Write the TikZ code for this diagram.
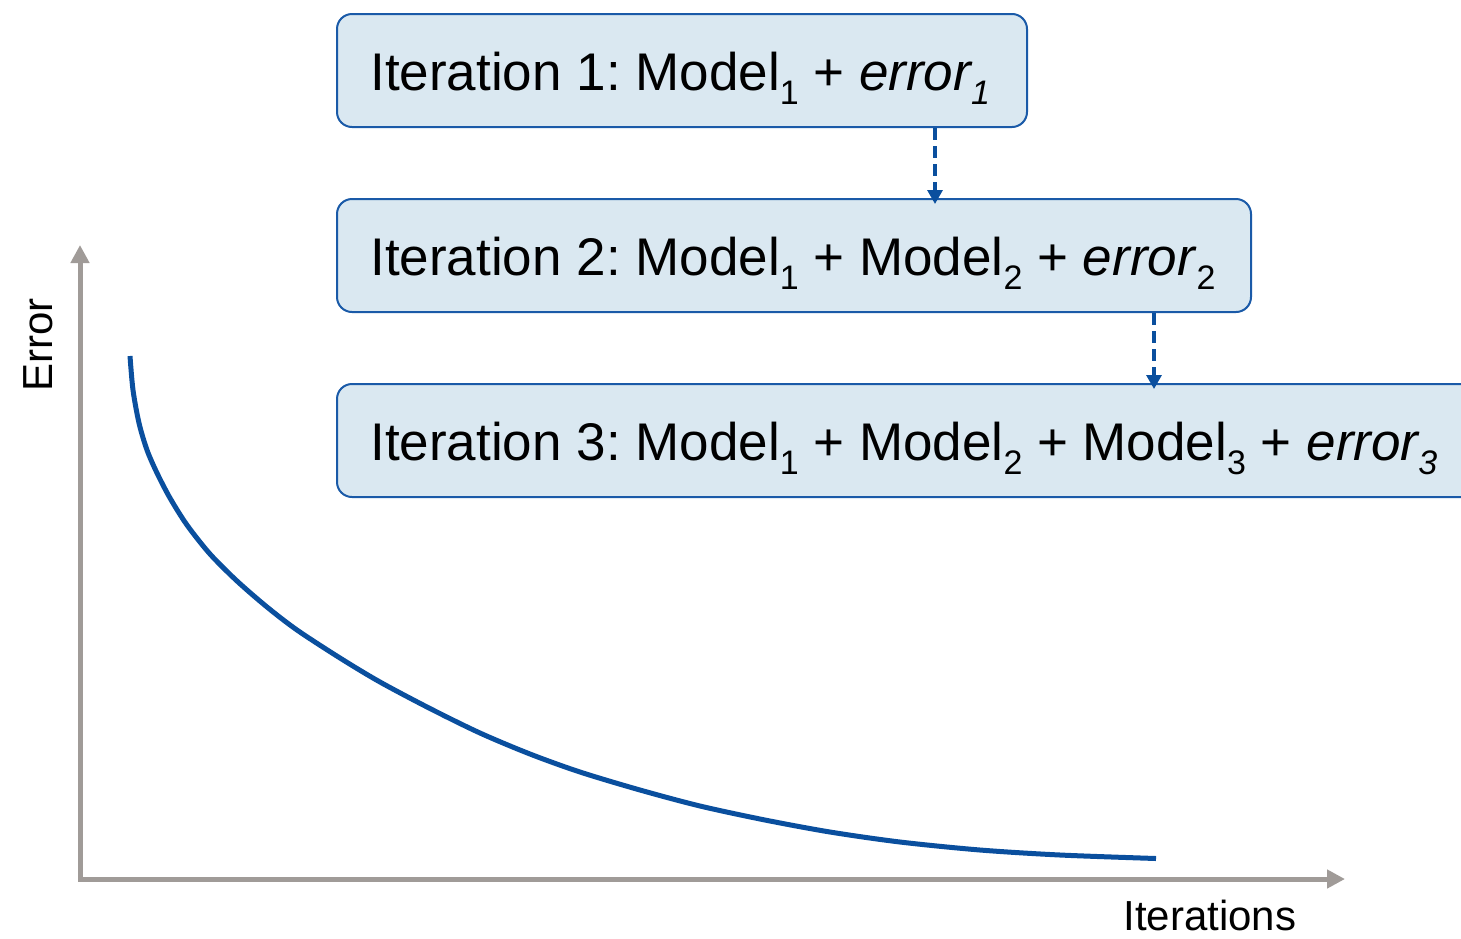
\documentclass[tikz,border=0pt]{standalone}
\usepackage{fontspec}
\setmainfont{Liberation Sans}
\usetikzlibrary{arrows.meta}
\frenchspacing

\definecolor{boxfill}{HTML}{DAE8F1}
\definecolor{boxline}{HTML}{1A5AA8}
\definecolor{curveblue}{HTML}{0A4F9E}
\definecolor{axisgray}{HTML}{A09B98}

% subscript lowered below the baseline
\newcommand{\lowsub}[1]{\raisebox{-7pt}{\fontsize{17}{17}\selectfont #1}}

\tikzset{
  iterbox/.style={draw=boxline, line width=1pt, fill=boxfill, rounded corners=7.5pt,
    minimum height=56.5pt, anchor=north west, inner sep=0pt},
  iterlabel/.style={anchor=base west, inner sep=0pt, font=\fontsize{26.5}{26.5}\selectfont},
  axislabel/.style={inner sep=0pt, font=\fontsize{21}{21}\selectfont},
  axisline/.style={draw=axisgray, line width=2.5pt, line join=miter,
    {Triangle[length=9pt,width=9pt]}-{Triangle[length=9pt,width=9pt]}},
  steparrow/.style={draw=curveblue, line width=1.6pt, dash pattern=on 6pt off 3pt,
    -{Triangle[length=7pt,width=7.5pt]}, shorten >=-3pt},
  errcurve/.style={draw=curveblue, line width=2.5pt},
}

\begin{document}
\begin{tikzpicture}[x=0.5pt, y=-0.5pt]
  \useasboundingbox (0,0) rectangle (1461,938);

  % axes
  \coordinate (ytip) at (80,245);
  \coordinate (xtip) at (1345,879);
  \draw[axisline] (ytip) |- (xtip);
  \node[axislabel, rotate=90, anchor=base] (ylab) at (52,345) {Error};
  \node[axislabel, anchor=base west] (xlab) at (1123,930) {Iterations};

  % error curve
  \draw[errcurve] plot[smooth, tension=0.5] coordinates {
    (130,356) (133,390) (139,423) (147,450) (157,473) (170,498) (187,525)
    (210,554) (237,581) (267,607) (297,630) (340,658) (380,682) (430,708.5)
    (480,733) (530,754) (580,772) (640,790) (700,806) (765,820) (830,832)
    (900,842) (980,850) (1060,855) (1156,858.5)};

  % iteration boxes
  \node[iterbox, minimum width=345pt] (b1) at (336,13) {};
  \node[iterbox, minimum width=457pt] (b2) at (336,198) {};
  \node[iterbox, minimum width=580pt] (b3) at (336,383) {};

  \node[iterlabel] (t1) at (370,90)
    {Iteration 1: Model\lowsub{1} + \textit{error\lowsub{1}}};
  \node[iterlabel] (t2) at (370,275)
    {Iteration 2: Model\lowsub{1} + Model\lowsub{2} + \textit{error}\lowsub{2}};
  \node[iterlabel] (t3) at (370,460)
    {Iteration 3: Model\lowsub{1} + Model\lowsub{2} + Model\lowsub{3} + \textit{error\lowsub{3}}};

  % dashed connectors between the boxes
  \coordinate (c1) at (935,0);
  \coordinate (c2) at (1154,0);
  \draw[steparrow] (c1 |- b1.south) -- (c1 |- b2.north);
  \draw[steparrow] (c2 |- b2.south) -- (c2 |- b3.north);
\end{tikzpicture}
\end{document}
